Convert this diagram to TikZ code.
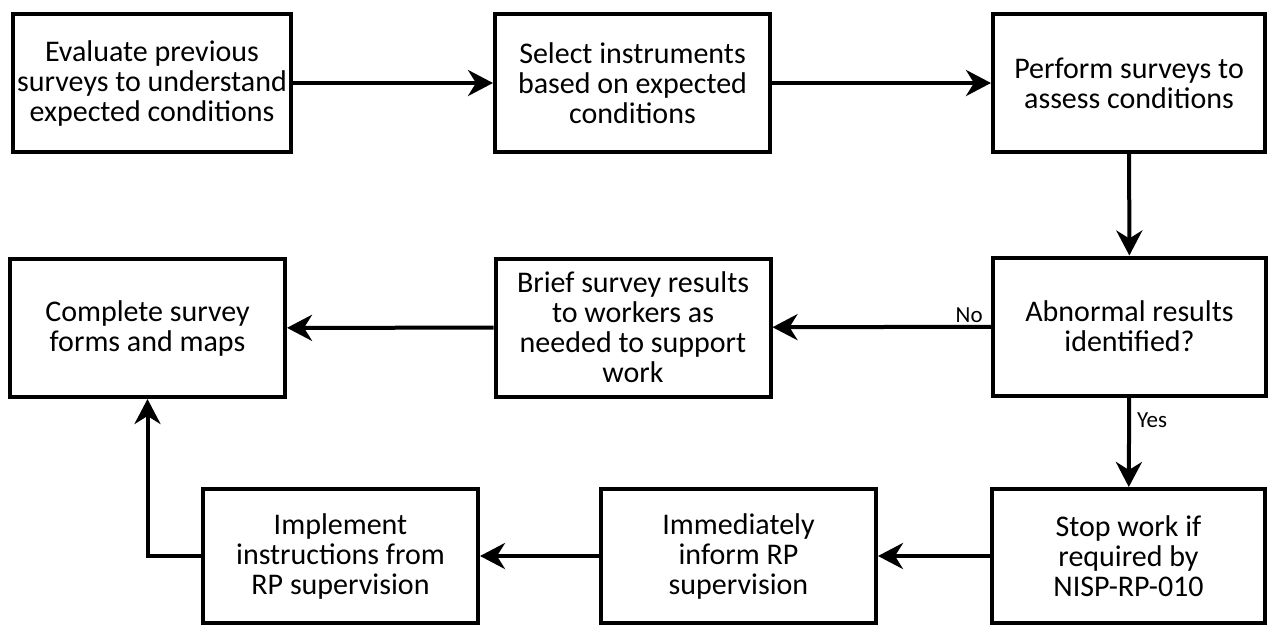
\documentclass[tikz,border=0pt]{standalone}
\usepackage{fontspec}
\setmainfont{Carlito}
\usepackage{tikz}
\usetikzlibrary{positioning,arrows.meta,calc}
\tikzset{
  box/.style={draw=black,line width=4pt,minimum width=275pt,minimum height=138pt,inner sep=4pt,align=center,font=\fontsize{30}{30}\selectfont},
  lowbox/.style={box,minimum height=134pt},
  note/.style={font=\fontsize{23}{25}\selectfont,inner sep=2pt},
  arr/.style={-{Stealth[length=25pt,width=26pt,inset=8pt]},line width=4pt},
}
\begin{document}
\begin{tikzpicture}[x=1pt,y=-1pt]
\useasboundingbox (0,0) rectangle (1270,627);
\node[box] (ev) at (152,83) {Evaluate previous\\surveys to understand\\expected conditions};
\node[box] (si) at (632.5,83) {Select instruments\\based on expected\\conditions};
\node[box,minimum width=272pt] (ps) at (1129,83) {Perform surveys to\\assess conditions};
\node[box] (cf) at (147.5,328) {Complete survey\\forms and maps};
\node[box] (br) at (633,327.5) {Brief survey results\\to workers as\\needed to support\\work};
\node[box,minimum width=273pt] (ab) at (1129.5,326.5) {Abnormal results\\identified?};
\node[lowbox] (im) at (340.5,556) {Implement\\instructions from\\RP supervision};
\node[lowbox] (in) at (738.5,556) {Immediately\\inform RP\\supervision};
\node[lowbox,minimum width=273pt] (sw) at (1128.5,556) {Stop work if\\required by\\NISP-RP-010};
\draw[arr] (ev) -- (si);
\draw[arr] (si) -- (ps);
\draw[arr] (ps) -- (ab);
\draw[arr] (ab) -- node[note,pos=0.02,anchor=south east]{No} (br);
\draw[arr] (br) -- (cf);
\draw[arr] (ab) -- node[note,right=4pt,pos=0.25]{Yes} (sw);
\draw[arr] (sw) -- (in);
\draw[arr] (in) -- (im);
\draw[arr] (im.west) -| (cf.south);
\end{tikzpicture}
\end{document}
